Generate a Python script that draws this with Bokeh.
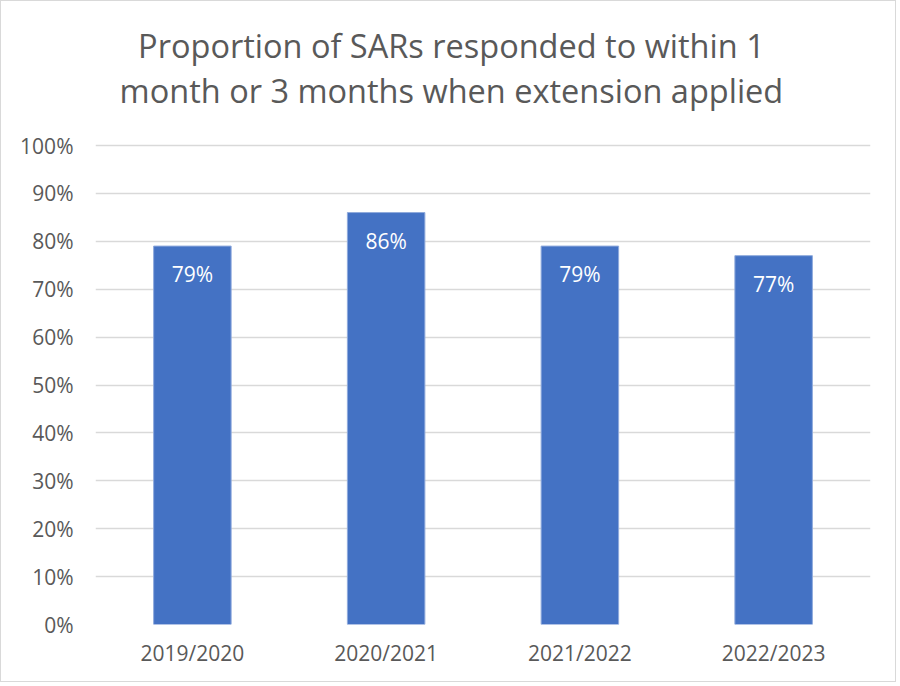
from bokeh.plotting import figure
from bokeh.models import ColumnDataSource, FactorRange, Range1d, FixedTicker, PrintfTickFormatter
from bokeh.core.properties import value
from bokeh.embed import file_html
from bokeh.resources import INLINE

# ---- data ----
categories = ["2019/2020", "2020/2021", "2021/2022", "2022/2023"]
values = [79, 86, 79, 77]
y_ticks = [0, 10, 20, 30, 40, 50, 60, 70, 80, 90, 100]
title_lines = ["Proportion of SARs responded to within 1",
               "month or 3 months when extension applied"]

FONT = "Open Sans"
GREY = "#595959"
BAR = "#4472C4"

# layout: the 0-100 % scale spans 479 px; the frame is extended upward
# so the two-line title can sit inside it above the 100 % line
W, H = 896, 682
MB_LEFT, MB_RIGHT, MB_TOP, MB_BOTTOM = 94, 27, 0, 59
SCALE_PX = 479
frame_h = H - MB_TOP - MB_BOTTOM
y_top = 100 * frame_h / SCALE_PX

src = ColumnDataSource(dict(cat=categories, val=values,
                            label=[f"{v}%" for v in values]))

p = figure(width=W, height=H,
           x_range=FactorRange(*categories, range_padding=0),
           y_range=Range1d(0, y_top),
           output_backend="svg", toolbar_location=None,
           min_border_left=MB_LEFT, min_border_right=MB_RIGHT,
           min_border_top=MB_TOP, min_border_bottom=MB_BOTTOM)
p.styles = {"border": "1px solid #D9D9D9"}

p.vbar(x="cat", top="val", width=0.4, source=src,
       fill_color=BAR, line_color="#8FAADC", line_width=1)

p.text(x="cat", y="val", text="label", source=src,
       text_color="white", text_font=value(FONT), text_font_size="21px",
       text_align="center", text_baseline="middle", y_offset=28)

# axes
p.yaxis.ticker = FixedTicker(ticks=y_ticks)
p.yaxis.formatter = PrintfTickFormatter(format="%d%%")
for ax in (p.xaxis, p.yaxis):
    ax.axis_line_color = None
    ax.major_tick_line_color = None
    ax.minor_tick_line_color = None
    ax.major_tick_out = 0
    ax.major_tick_in = 0
    ax.major_label_text_font = FONT
    ax.major_label_text_font_size = "21px"
    ax.major_label_text_color = GREY
p.yaxis.major_label_standoff = 22
p.xaxis.major_label_standoff = 14

p.xgrid.grid_line_color = None
p.ygrid.ticker = FixedTicker(ticks=y_ticks[1:])
p.ygrid.grid_line_color = "#D9D9D9"
p.ygrid.grid_line_width = 1.5
p.outline_line_color = None

# two-line title, centred on the chart area (placed in the extended frame)
title_src = ColumnDataSource(dict(x=[1.837, 1.837], y=[120.9, 111.5],
                                  text=title_lines))
p.text(x="x", y="y", text="text", source=title_src,
       text_font=value(FONT), text_font_size="32.5px", text_color=GREY,
       text_align="center", text_baseline="alphabetic")

open("out.html", "w").write(file_html(p, INLINE))
